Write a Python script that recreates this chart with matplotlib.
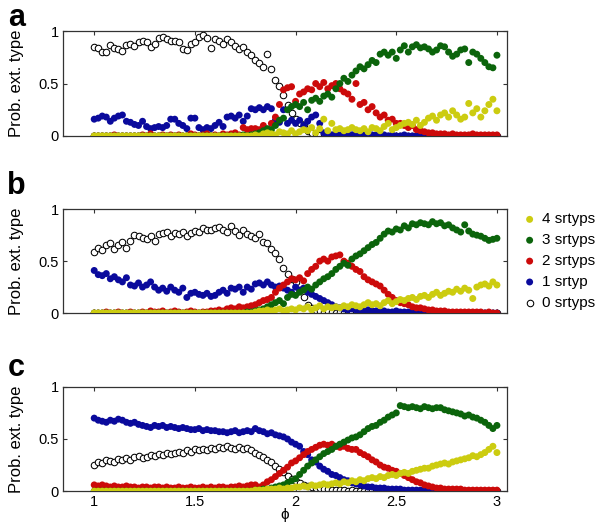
import numpy as np
import matplotlib
matplotlib.use("Agg")
import matplotlib.pyplot as plt

plt.rcParams['font.family'] = ['Liberation Sans', 'DejaVu Sans']

# phi grid, 1.00 .. 3.00 step 0.02
phi = np.round(np.arange(1.0, 3.001, 0.02), 2)

# ---------------- panel a ----------------
a_0 = [.85, .84, .80, .80, .87, .84, .83, .81, .87, .88,
       .86, .90, .91, .90, .85, .88, .93, .94, .92, .91,
       .91, .90, .83, .82, .88, .90, .94, .96, .93, .84,
       .92, .91, .88, .92, .90, .86, .83, .85, .80, .77,
       .72, .70, .66, .78, .64, .53, .48, .39, .30, .22,
       .16, .12, .10, .05, .03, .02, .01, .02, .00, .01,
       .00, .01, .00, .00, .01, .00, .00, .00, .00, .00,
       .00, .00, .00, .00, .00, .00, .00, .00, .00, .00,
       .00, .00, .00, .00, .00, .00, .00, .00, .00, .00,
       .00, .00, .00, .00, .00, .00, .00, .00, .00, .00,
       .00]
a_1 = [.16, .17, .19, .18, .14, .17, .19, .20, .14, .13,
       .11, .10, .14, .09, .07, .08, .09, .08, .10, .16,
       .16, .12, .10, .07, .17, .17, .08, .06, .08, .07,
       .10, .13, .09, .18, .19, .17, .20, .14, .19, .26,
       .25, .27, .25, .28, .26, .15, .13, .25, .12, .15,
       .12, .15, .10, .14, .18, .20, .12, .03, .02, .01,
       .02, .01, .01, .02, .01, .01, .02, .01, .01, .01,
       .01, .01, .01, .00, .01, .00, .00, .01, .00, .00,
       .00, .00, .00, .00, .00, .00, .00, .00, .00, .00,
       .00, .00, .00, .00, .00, .00, .00, .00, .00, .00,
       .00]
a_2 = [.00, .00, .00, .00, .00, .01, .00, .00, .00, .00,
       .00, .00, .01, .00, .02, .00, .00, .01, .00, .01,
       .00, .01, .00, .00, .02, .01, .00, .01, .02, .00,
       .01, .00, .02, .01, .02, .03, .01, .08, .06, .07,
       .07, .06, .10, .05, .12, .18, .30, .44, .46, .47,
       .33, .40, .42, .45, .44, .50, .47, .51, .45, .48,
       .50, .45, .42, .40, .35, .50, .30, .32, .25, .28,
       .22, .18, .20, .15, .16, .12, .12, .10, .08, .10,
       .06, .05, .04, .03, .03, .02, .02, .02, .01, .02,
       .01, .01, .01, .01, .02, .01, .01, .01, .01, .01,
       .01]
a_3 = [.00, .00, .00, .00, .00, .00, .00, .00, .00, .00,
       .00, .00, .00, .00, .00, .00, .00, .00, .00, .00,
       .00, .00, .00, .00, .00, .00, .00, .00, .00, .00,
       .00, .00, .00, .00, .00, .00, .00, .01, .00, .01,
       .02, .03, .05, .07, .06, .10, .15, .17, .25, .28,
       .30, .28, .32, .25, .34, .36, .33, .38, .40, .37,
       .45, .50, .55, .52, .58, .62, .66, .64, .68, .72,
       .70, .78, .80, .77, .80, .74, .82, .86, .80, .85,
       .87, .84, .85, .83, .80, .82, .86, .85, .80, .76,
       .78, .82, .83, .70, .80, .78, .74, .70, .66, .65,
       .77]
a_4 = [.00, .00, .00, .00, .00, .00, .00, .00, .00, .00,
       .00, .00, .00, .00, .00, .00, .00, .00, .00, .00,
       .00, .00, .00, .00, .00, .00, .00, .00, .00, .00,
       .00, .00, .00, .00, .00, .00, .00, .00, .00, .00,
       .01, .00, .02, .03, .02, .01, .04, .03, .02, .05,
       .02, .04, .06, .05, .08, .03, .07, .16, .05, .12,
       .06, .07, .05, .06, .08, .06, .05, .07, .04, .08,
       .07, .05, .09, .12, .06, .08, .10, .12, .13, .11,
       .15, .10, .13, .17, .19, .15, .20, .22, .18, .24,
       .20, .16, .18, .31, .22, .26, .18, .24, .30, .35,
       .24]

# ---------------- panel b ----------------
b_0 = [.59, .63, .61, .66, .67, .62, .66, .68, .63, .69,
       .75, .74, .72, .71, .74, .69, .76, .77, .78, .74,
       .77, .76, .78, .74, .77, .79, .78, .82, .80, .80,
       .82, .83, .80, .78, .84, .79, .75, .80, .76, .74,
       .72, .76, .68, .67, .62, .58, .52, .43, .38, .33,
       .30, .22, .15, .08, .05, .03, .02, .01, .02, .01,
       .00, .01, .00, .00, .01, .00, .00, .00, .00, .00,
       .00, .00, .00, .00, .00, .00, .00, .00, .00, .00,
       .00, .00, .00, .00, .00, .00, .00, .00, .00, .00,
       .00, .00, .00, .00, .00, .00, .00, .00, .00, .00,
       .00]
b_1 = [.41, .37, .36, .38, .33, .35, .32, .30, .34, .27,
       .26, .29, .25, .27, .30, .25, .22, .24, .21, .25,
       .22, .20, .24, .15, .19, .20, .18, .17, .19, .16,
       .17, .20, .22, .19, .24, .23, .25, .20, .25, .23,
       .28, .29, .27, .30, .27, .25, .26, .24, .22, .20,
       .25, .22, .24, .20, .18, .16, .14, .12, .10, .08,
       .06, .05, .04, .03, .04, .03, .02, .02, .03, .02,
       .02, .01, .02, .01, .01, .02, .01, .01, .01, .01,
       .01, .01, .00, .01, .00, .01, .00, .00, .00, .00,
       .00, .00, .00, .00, .00, .00, .00, .00, .00, .00,
       .00]
b_2 = [.00, .00, .00, .01, .00, .00, .01, .00, .00, .01,
       .00, .00, .01, .00, .02, .01, .01, .02, .00, .01,
       .02, .01, .00, .01, .02, .01, .00, .01, .01, .02,
       .02, .03, .02, .04, .05, .04, .06, .05, .06, .07,
       .08, .10, .12, .13, .15, .20, .24, .27, .30, .33,
       .32, .34, .31, .38, .42, .45, .50, .52, .50, .54,
       .55, .56, .50, .48, .45, .42, .40, .35, .32, .30,
       .28, .26, .22, .18, .15, .12, .10, .09, .08, .06,
       .05, .05, .04, .03, .03, .02, .02, .02, .01, .01,
       .01, .01, .01, .01, .01, .01, .01, .00, .01, .00,
       .00]
b_3 = [.00, .00, .00, .00, .00, .00, .00, .00, .00, .00,
       .00, .00, .00, .00, .00, .00, .00, .00, .00, .00,
       .00, .00, .00, .00, .00, .00, .00, .00, .00, .00,
       .00, .00, .00, .00, .00, .00, .00, .00, .01, .01,
       .02, .03, .04, .06, .08, .10, .12, .09, .15, .18,
       .17, .20, .22, .25, .23, .27, .30, .33, .35, .38,
       .42, .45, .48, .46, .52, .55, .57, .60, .63, .66,
       .68, .72, .76, .79, .78, .81, .80, .84, .82, .86,
       .85, .87, .86, .85, .88, .86, .87, .84, .85, .82,
       .80, .78, .85, .79, .76, .75, .74, .72, .70, .71,
       .72]
b_4 = [.00, .00, .00, .00, .00, .00, .00, .00, .00, .00,
       .00, .00, .00, .00, .00, .00, .00, .00, .00, .00,
       .00, .00, .00, .00, .00, .00, .00, .00, .00, .00,
       .00, .00, .00, .00, .00, .00, .00, .00, .00, .00,
       .01, .02, .02, .03, .02, .03, .04, .02, .03, .04,
       .03, .05, .04, .06, .03, .05, .07, .04, .06, .05,
       .06, .05, .07, .06, .08, .07, .06, .08, .10, .08,
       .09, .07, .10, .12, .09, .11, .13, .12, .14, .15,
       .13, .16, .17, .15, .18, .20, .17, .19, .21, .20,
       .23, .21, .24, .22, .14, .25, .27, .28, .26, .30,
       .27]

# ---------------- panel c ----------------
c_0 = [.25, .28, .27, .30, .29, .28, .31, .30, .32, .30,
       .33, .34, .32, .33, .35, .34, .36, .35, .37, .36,
       .37, .38, .37, .39, .38, .40, .39, .40, .39, .41,
       .40, .42, .41, .43, .41, .40, .42, .40, .41, .39,
       .37, .35, .33, .30, .28, .24, .21, .18, .15, .12,
       .10, .08, .06, .05, .04, .03, .03, .02, .02, .01,
       .01, .01, .01, .00, .01, .00, .00, .00, .00, .00,
       .00, .00, .00, .00, .00, .00, .00, .00, .00, .00,
       .00, .00, .00, .00, .00, .00, .00, .00, .00, .00,
       .00, .00, .00, .00, .00, .00, .00, .00, .00, .00,
       .00]
c_1 = [.70, .68, .67, .66, .68, .67, .69, .68, .66, .65,
       .66, .64, .63, .62, .61, .63, .62, .63, .61, .62,
       .61, .60, .61, .60, .59, .59, .60, .58, .59, .58,
       .58, .57, .57, .56, .57, .58, .56, .57, .58, .57,
       .60, .58, .57, .55, .56, .54, .53, .52, .50, .47,
       .45, .43, .38, .35, .30, .28, .24, .21, .19, .16,
       .15, .13, .11, .10, .08, .07, .06, .05, .04, .04,
       .03, .03, .03, .02, .02, .02, .02, .01, .01, .01,
       .01, .01, .01, .01, .01, .00, .00, .00, .00, .00,
       .00, .00, .00, .00, .00, .00, .00, .00, .00, .00,
       .00]
c_2 = [.06, .05, .06, .05, .04, .05, .04, .04, .05, .04,
       .04, .03, .04, .04, .03, .04, .04, .03, .04, .03,
       .03, .04, .03, .03, .04, .03, .03, .04, .03, .04,
       .03, .04, .04, .03, .04, .04, .05, .04, .05, .06,
       .06, .04, .06, .09, .11, .14, .17, .20, .23, .27,
       .29, .32, .35, .38, .40, .42, .44, .45, .44, .45,
       .43, .42, .43, .41, .40, .40, .37, .35, .33, .30,
       .28, .25, .23, .22, .20, .19, .17, .15, .13, .11,
       .09, .08, .06, .05, .04, .03, .03, .02, .02, .02,
       .02, .02, .01, .01, .01, .01, .01, .01, .01, .01,
       .01]
c_3 = [.00, .00, .00, .00, .00, .00, .00, .00, .00, .00,
       .00, .00, .00, .00, .00, .00, .00, .00, .00, .00,
       .00, .00, .00, .00, .00, .00, .00, .00, .00, .00,
       .00, .00, .00, .00, .00, .00, .00, .00, .00, .00,
       .01, .01, .02, .02, .03, .04, .05, .06, .08, .10,
       .12, .16, .20, .24, .27, .30, .33, .36, .38, .40,
       .43, .45, .47, .49, .51, .52, .54, .57, .60, .62,
       .63, .66, .68, .71, .73, .75, .82, .81, .80, .81,
       .80, .79, .81, .80, .79, .80, .80, .78, .77, .76,
       .75, .74, .72, .73, .71, .70, .68, .66, .63, .60,
       .63]
c_4 = [.00, .00, .00, .00, .00, .00, .00, .00, .00, .00,
       .00, .00, .00, .00, .00, .00, .00, .00, .00, .00,
       .00, .00, .00, .00, .00, .00, .00, .00, .00, .00,
       .00, .00, .00, .00, .00, .00, .00, .00, .00, .00,
       .01, .01, .01, .02, .02, .02, .03, .02, .03, .03,
       .04, .04, .05, .04, .06, .05, .06, .07, .06, .07,
       .08, .07, .09, .08, .10, .09, .11, .10, .12, .13,
       .12, .14, .13, .15, .16, .15, .17, .18, .17, .19,
       .20, .21, .22, .22, .24, .25, .26, .27, .26, .28,
       .29, .30, .31, .32, .34, .33, .35, .37, .40, .43,
       .37]

labels = ['0 srtyps', '1 srtyp', '2 srtyps', '3 srtyps', '4 srtyps']
colors = ['k', '#0a0a9c', '#cc0a0a', '#0b640b', '#cccc10']
panels = [('a', [a_0, a_1, a_2, a_3, a_4]),
          ('b', [b_0, b_1, b_2, b_3, b_4]),
          ('c', [c_0, c_1, c_2, c_3, c_4])]

fig = plt.figure(figsize=(6.0, 5.27), dpi=100)
# axes boxes in figure fractions
boxes = [[0.105, 0.742, 0.740, 0.199],
         [0.105, 0.406, 0.740, 0.197],
         [0.105, 0.068, 0.740, 0.198]]
letter_y = [0.966, 0.648, 0.302]

for i, (letter, series) in enumerate(panels):
    ax = fig.add_axes(boxes[i])
    for k, ys in enumerate(series):
        if k == 0:
            ax.scatter(phi, ys, s=22, facecolors='white', edgecolors='k',
                       linewidths=0.75, label=labels[k], zorder=2)
        else:
            ax.scatter(phi, ys, s=25, color=colors[k], edgecolors='none',
                       label=labels[k], zorder=2 + k)
    ax.set_xlim(0.845, 3.05)
    ax.set_ylim(0, 1)
    ax.set_yticks([0, 0.5, 1])
    ax.set_yticklabels(['0', '0.5', '1'])
    ax.set_xticks([1, 1.5, 2, 2.5, 3])
    if letter == 'c':
        ax.set_xticklabels(['1', '1.5', '2', '2.5', '3'])
        ax.set_xlabel('\u03d5', fontsize=11, labelpad=-1)
    else:
        ax.set_xticklabels([])
    ax.tick_params(direction='in', top=True, right=True, length=3,
                   width=0.8, labelsize=10.5, color='#333333', pad=3)
    for sp in ax.spines.values():
        sp.set_color('#333333')
        sp.set_linewidth(0.9)
    ax.set_ylabel('Prob. ext. type', fontsize=12)
    ax.yaxis.set_label_coords(-0.088, 0.5)
    fig.text(0.027, letter_y[i], letter, fontsize=22, fontweight='bold',
             ha='center', va='center')
    if letter == 'b':
        h, l = ax.get_legend_handles_labels()
        ax.legend(h[::-1], l[::-1], loc='center left', bbox_to_anchor=(1.02, 0.5),
                  frameon=False, fontsize=11, handletextpad=0.3,
                  labelspacing=0.45, handlelength=1.0, borderaxespad=0)

fig.savefig('out.png', dpi=100)
